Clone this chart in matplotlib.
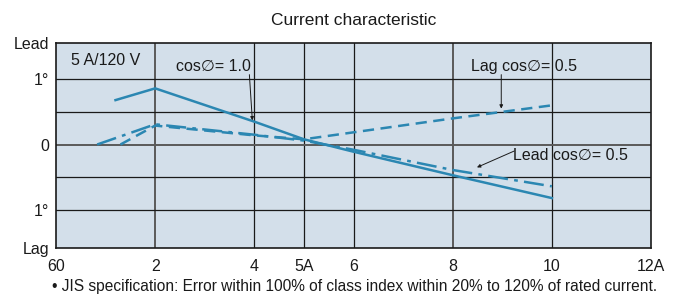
import numpy as np
import matplotlib.pyplot as plt

plt.rcParams['font.family'] = ['Liberation Sans', 'DejaVu Sans']

# current (A) vs error (deg)
x_pf10 = [1.2, 2, 4, 5, 6, 8, 10]
y_pf10 = [0.68, 0.86, 0.35, 0.08, -0.11, -0.47, -0.82]

x_lag = [1.3, 2, 4, 5, 8, 10]
y_lag = [0.0, 0.29, 0.14, 0.08, 0.40, 0.60]

x_lead = [0.83, 2, 4, 5, 6, 8, 10]
y_lead = [0.0, 0.31, 0.15, 0.06, -0.08, -0.39, -0.64]

xticks = [0, 2, 4, 5, 6, 8, 10, 12]
xlabels = ['60', '2', '4', '5A', '6', '8', '10', '12A']
yticks = [-1.58, -1, 0, 1, 1.55]
ylabels = ['Lag', '1°', '0', '1°', 'Lead']

col = '#2b87b2'
txt = '#1a1a1a'
fs = 11.5

fig = plt.figure(figsize=(6.8, 2.95), dpi=100)
ax = fig.add_axes([56/680, 1-247.7/295, 595/680, 204.4/295])
ax.set_facecolor('#d3dfea')
ax.set_xlim(0, 12)
ax.set_ylim(-1.58, 1.55)

# grid
for gx in [4, 5, 6, 10]:
    ax.axvline(gx, color=txt, lw=0.9, zorder=1)
for gx in [2, 8]:
    ax.axvline(gx, color='#5a5a5a', lw=1.4, zorder=1)
for gy in [-1, -0.5, 0.5, 1]:
    ax.axhline(gy, color=txt, lw=0.9, zorder=1)
ax.axhline(0, color='#5a5a5a', lw=1.4, zorder=1)

ax.plot(x_pf10, y_pf10, color=col, lw=1.8, zorder=3)
ax.plot(x_lag, y_lag, color=col, lw=1.8, dashes=(4.5, 2.6), zorder=3)
ax.plot(x_lead, y_lead, color=col, lw=1.8, dashes=(8, 2.5, 1.5, 2.5), zorder=3)

for s in ax.spines.values():
    s.set_color(txt)
    s.set_linewidth(1.2)

ax.set_xticks(xticks)
ax.set_xticklabels(xlabels)
ax.set_yticks(yticks)
ax.set_yticklabels(ylabels)
ax.tick_params(length=0, labelsize=fs, colors=txt)
ax.tick_params(axis='x', pad=8)
ax.tick_params(axis='y', pad=5)

ax.set_title('Current characteristic', fontsize=12.5, pad=13, color=txt)

ax.text(0.31, 1.28, '5 A/120 V', fontsize=fs, va='center', color=txt)

arw = dict(arrowstyle='-|>', lw=0.7, color=txt, mutation_scale=5, shrinkA=0, shrinkB=0)
ax.text(3.94, 1.20, 'cos\u2205= 1.0', ha='right', va='center', fontsize=fs, color=txt)
ax.annotate('', xy=(3.96, 0.37), xytext=(3.9, 1.07), arrowprops=arw)
ax.text(8.37, 1.20, 'Lag cos\u2205= 0.5', ha='left', va='center', fontsize=fs, color=txt)
ax.annotate('', xy=(8.98, 0.55), xytext=(8.98, 1.07), arrowprops=arw)
ax.text(9.22, -0.16, 'Lead cos\u2205= 0.5', ha='left', va='center', fontsize=fs, color=txt)
ax.annotate('', xy=(8.49, -0.35), xytext=(9.24, -0.10), arrowprops=arw)

fig.text(52/680, 1-286/295, '\u2022 JIS specification: Error within 100% of class index within 20% to 120% of rated current.',
         fontsize=11.2, va='center', ha='left', color=txt)

fig.savefig('out.png', dpi=100)
